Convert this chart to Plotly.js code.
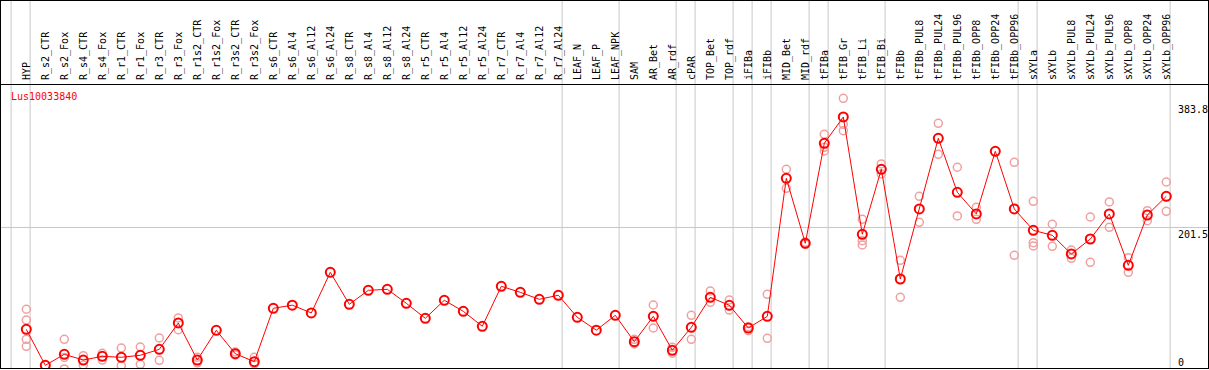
<!DOCTYPE html>
<html>
<head>
<meta charset="utf-8">
<script src="https://cdn.plot.ly/plotly-3.0.1.min.js"></script>
<style>html,body{margin:0;padding:0;background:#fff;}#chart{width:1209px;height:370px;}</style>
</head>
<body>
<div id="chart"></div>
<script>
const categories = ["HYP","R_s2_CTR","R_s2_Fox","R_s4_CTR","R_s4_Fox","R_r1_CTR","R_r1_Fox","R_r3_CTR","R_r3_Fox","R_r1s2_CTR","R_r1s2_Fox","R_r3s2_CTR","R_r3s2_Fox","R_s6_CTR","R_s6_Al4","R_s6_Al12","R_s6_Al24","R_s8_CTR","R_s8_Al4","R_s8_Al12","R_s8_Al24","R_r5_CTR","R_r5_Al4","R_r5_Al12","R_r5_Al24","R_r7_CTR","R_r7_Al4","R_r7_Al12","R_r7_Al24","LEAF_N","LEAF_P","LEAF_NPK","SAM","AR_Bet","AR_rdf","cPAR","TOP_Bet","TOP_rdf","iFIBa","iFIBb","MID_Bet","MID_rdf","tFIBa","tFIB_Gr","tFIB_Li","tFIB_Bi","tFIBb","tFIBb_PUL8","tFIBb_PUL24","tFIBb_PUL96","tFIBb_OPP8","tFIBb_OPP24","tFIBb_OPP96","sXYLa","sXYLb","sXYLb_PUL8","sXYLb_PUL24","sXYLb_PUL96","sXYLb_OPP8","sXYLb_OPP24","sXYLb_OPP96"];

const means = [53.8,1.3,17.3,9.0,14.4,13,15.9,24.6,63,9.0,52.3,18.2,6.6,84.4,89,77.6,136.9,90.2,110.6,112.1,91.7,69.8,96.1,80,58.2,116.5,107.7,97.5,103.4,71.3,52.5,74.2,35.7,72.7,23.2,56.7,100.4,88.8,55.7,72.7,273.9,179.2,324.9,363.3,192.3,287,127.1,229.2,332.2,253.5,221.9,313.3,229.2,198.1,190.8,163.6,185.4,221.9,147.1,220.4,247.7];

const replicates = [
  [83,67.3,39.2,29],[],[39.2,-4,12.7],[15.3,1.7],[18.8,9.0],[26.5,0.7],[28,2.8],[41.1,8.6],[70.3,53.2],[5,13],
  [],[20.7,16.3],[13,3.2],[],[],[],[],[],[],[],
  [],[],[],[],[],[],[],[],[],[],
  [],[],[39.2,32.4],[89.2,55.7],[27.5,19],[74.2,39.2],[109.6,93.1],[96.5,81.9],[57.6,51.7],[104.8,40.7],
  [287,259.3],[180.5,178],[338,319,313.7],[390.5,352.6,343.3],[214.1,183,176.7],[294.8,280.2],[154.4,100.4],[247.7,209.8],[354.1,308.9],[290,219],
  [231.6,214.1],[],[297.2,161.7],[240.4,180,175.2],[206.9,174.8],[169.4,157.3],[217.5,151.5],[239.4,202.5],[158.2,136.9],[226.7,212.1],
  [268.5,225.8]
];

const groupEnds = [-1,0,28,31,34,35,37,38,39,41,42,45,52,53,60];
const geneName = "Lus10033840";
const axisLabels = [383.8, 201.5, 0];

const idx = categories.map((c,i)=>i);
const repX = [], repY = [];
replicates.forEach((r,i)=>r.forEach(v=>{repX.push(i);repY.push(v);}));

const W = 1209, H = 370, T = 85, B = 2;
const ph = H - T - B;
const font = {family: "DejaVu Sans Mono, monospace", size: 10, color: "#000"};

const traces = [
  {x: repX, y: repY, type: "scatter", mode: "markers", hoverinfo: "skip",
   marker: {symbol: "circle-open", size: 8, color: "#f0a0a0", line: {width: 1.5, color: "#f0a0a0"}}},
  {x: idx, y: means, type: "scatter", mode: "lines+markers",
   line: {color: "#ff0000", width: 1},
   marker: {symbol: "circle-open", size: 9, color: "#ff0000", line: {width: 2, color: "#ff0000"}}}
];

const shapes = groupEnds.map(g => ({type: "line", xref: "x", yref: "paper", x0: g + 0.2, x1: g + 0.2, y0: 0, y1: 1 + T/ph, line: {color: "#c8c8c8", width: 1}, layer: "below"}));
shapes.push({type: "line", xref: "paper", yref: "paper", x0: 0, x1: 1, y0: 1 + (T-0.5)/ph, y1: 1 + (T-0.5)/ph, line: {color: "#000", width: 1}});
shapes.push({type: "line", xref: "paper", yref: "paper", x0: 0.5/W, x1: 0.5/W, y0: 0, y1: 1 + T/ph, line: {color: "#000", width: 1}});
shapes.push({type: "line", xref: "paper", yref: "paper", x0: (W-0.5)/W, x1: (W-0.5)/W, y0: 0, y1: 1 + T/ph, line: {color: "#000", width: 1}});

const annotations = [
  {text: geneName, xref: "paper", yref: "paper", x: 10/W, y: (H - B - 97)/ph, xanchor: "left", yanchor: "middle", showarrow: false, font: {family: font.family, size: 10, color: "#ff0000"}, borderpad: 0}
];
axisLabels.forEach(v => annotations.push({
  text: String(v), xref: "paper", yref: "y", x: 1177/W, y: v, xanchor: "left", yanchor: v === 0 ? "bottom" : "top", yshift: v === 0 ? -3 : 0, showarrow: false, font: font, borderpad: 0
}));

const layout = {
  width: W, height: H,
  margin: {l: 0, r: 0, t: T, b: B, pad: 0},
  paper_bgcolor: "#fff", plot_bgcolor: "#fff",
  showlegend: false,
  xaxis: {side: "top", range: [-26.3/19, (W - 26.3)/19], tickvals: idx, ticktext: categories, tickangle: -90, tickfont: font,
          ticks: "", ticklabelstandoff: 2, showgrid: false, zeroline: false, showline: true, mirror: true, linecolor: "#000", linewidth: 1, fixedrange: true},
  yaxis: {range: [-2.62, 409.9], tickvals: [201.5], showticklabels: false, ticks: "", showgrid: true, gridcolor: "#c8c8c8", gridwidth: 1,
          zeroline: false, showline: false, fixedrange: true},
  shapes: shapes,
  annotations: annotations
};

Plotly.newPlot("chart", traces, layout, {displayModeBar: false, staticPlot: true});
</script>
</body>
</html>
